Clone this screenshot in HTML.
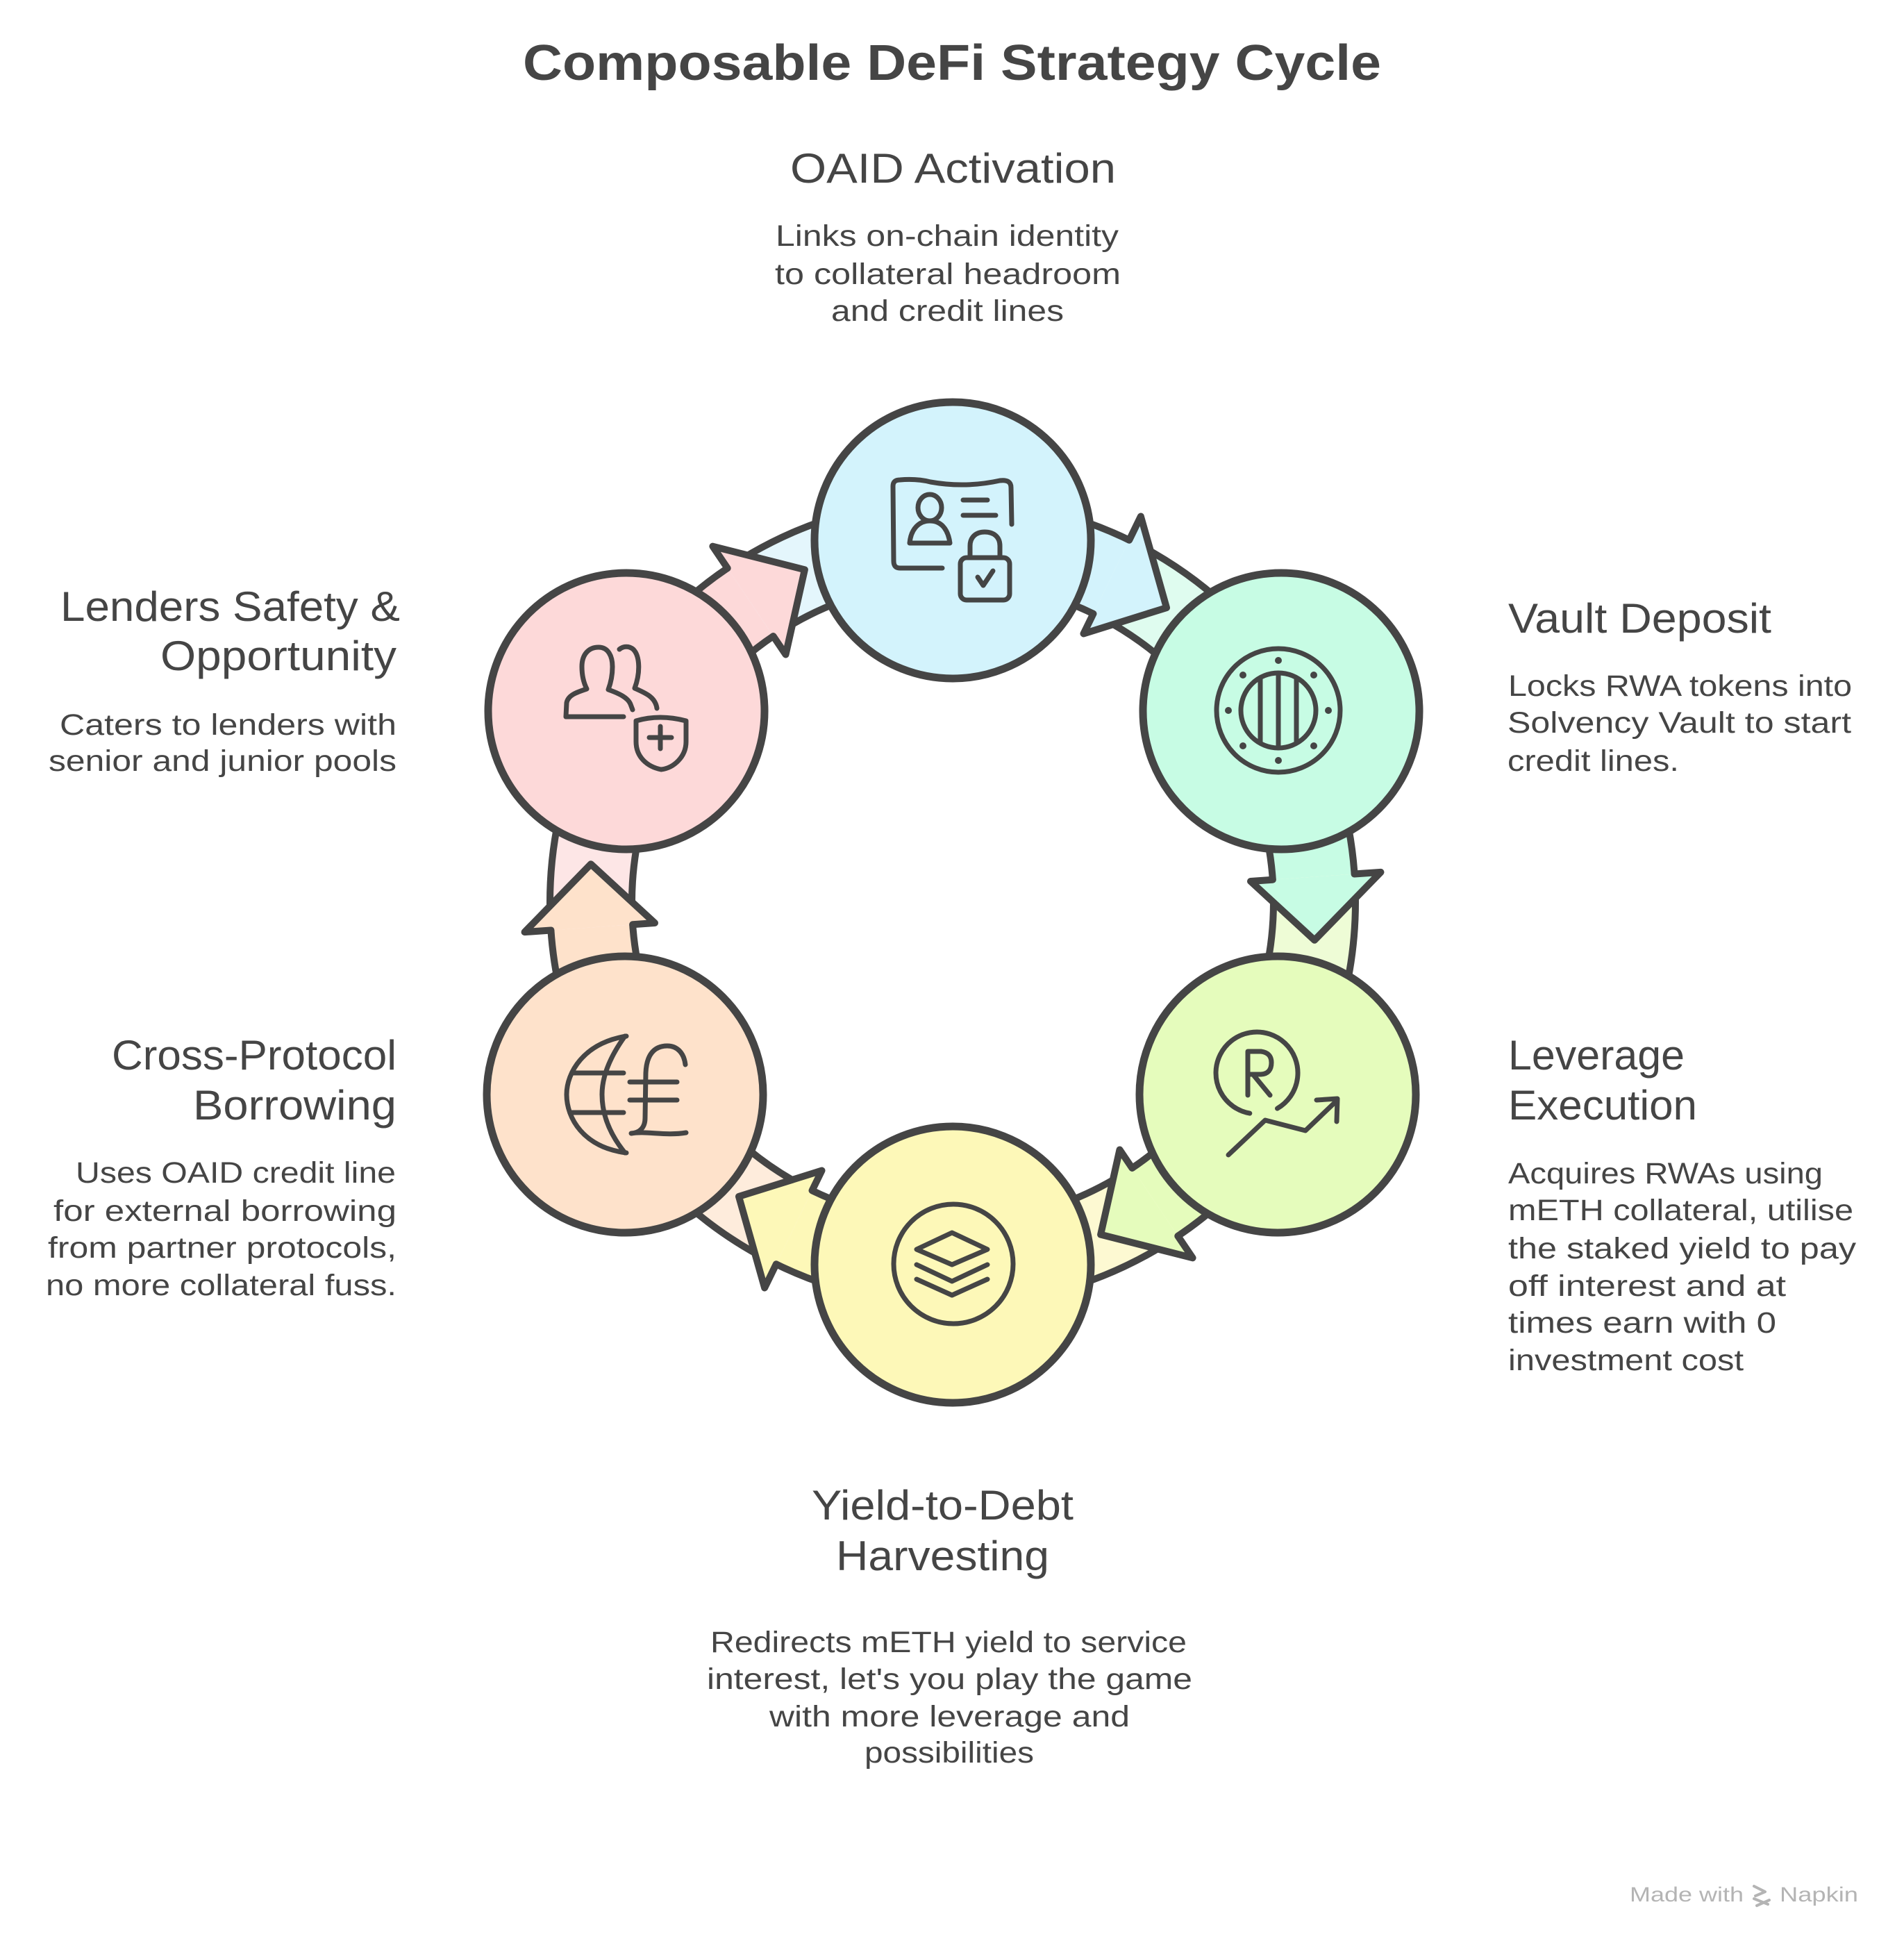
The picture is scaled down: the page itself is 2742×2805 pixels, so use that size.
<!DOCTYPE html>
<html><head><meta charset="utf-8">
<style>
html,body{margin:0;padding:0;background:#fff;}
svg{display:block;}
text{font-family:"Liberation Sans",sans-serif;fill:#454545;}
.h{font-size:60px;}
.d{font-size:43px;}
</style></head><body>
<svg width="2742" height="2805" viewBox="0 0 2742 2805" xmlns="http://www.w3.org/2000/svg">
<rect width="2742" height="2805" fill="#fff"/>

<!-- Title -->
<text x="753" y="115" font-size="72" font-weight="bold" textLength="1236" lengthAdjust="spacingAndGlyphs">Composable DeFi Strategy Cycle</text>

<!-- ARROWS (generic: source at -60deg, target at 0deg, rotated to target angle) -->
<!-- Lenders -> OAID -->
<g transform="translate(1372,1299) rotate(270)">
 <path d="M290,-502.3 A580,580 0 0 1 480.8,-324.3 L383,-258.4 A462,462 0 0 0 231,-400.1 Z" fill="#fdd9d9"/>
 <path d="M480.8,-324.3 A580,580 0 0 1 580,0 L462,0 A462,462 0 0 0 383,-258.4 Z" fill="#e4f6fc"/>
 <path d="M290,-502.3 A580,580 0 0 1 580,0 M231,-400.1 A462,462 0 0 1 462,0" fill="none" stroke="#454545" stroke-width="10"/>
 <path d="M512.3,-345.6 L478.7,-213.1 L356.5,-240.5 Z" fill="#fdd9d9"/>
 <path d="M480.8,-324.3 L512.3,-345.6 L478.7,-213.1 L356.5,-240.5 L383,-258.4" fill="none" stroke="#454545" stroke-width="10" stroke-linejoin="round" stroke-linecap="round"/>
</g>
<!-- OAID -> Vault -->
<g transform="translate(1372,1299) rotate(-30)">
 <path d="M290,-502.3 A580,580 0 0 1 480.8,-324.3 L383,-258.4 A462,462 0 0 0 231,-400.1 Z" fill="#d3f3fc"/>
 <path d="M480.8,-324.3 A580,580 0 0 1 580,0 L462,0 A462,462 0 0 0 383,-258.4 Z" fill="#dffcef"/>
 <path d="M290,-502.3 A580,580 0 0 1 580,0 M231,-400.1 A462,462 0 0 1 462,0" fill="none" stroke="#454545" stroke-width="10"/>
 <path d="M512.3,-345.6 L478.7,-213.1 L356.5,-240.5 Z" fill="#d3f3fc"/>
 <path d="M480.8,-324.3 L512.3,-345.6 L478.7,-213.1 L356.5,-240.5 L383,-258.4" fill="none" stroke="#454545" stroke-width="10" stroke-linejoin="round" stroke-linecap="round"/>
</g>
<!-- Vault -> Leverage -->
<g transform="translate(1372,1299) rotate(30)">
 <path d="M290,-502.3 A580,580 0 0 1 480.8,-324.3 L383,-258.4 A462,462 0 0 0 231,-400.1 Z" fill="#c7fce4"/>
 <path d="M480.8,-324.3 A580,580 0 0 1 580,0 L462,0 A462,462 0 0 0 383,-258.4 Z" fill="#eefcd6"/>
 <path d="M290,-502.3 A580,580 0 0 1 580,0 M231,-400.1 A462,462 0 0 1 462,0" fill="none" stroke="#454545" stroke-width="10"/>
 <path d="M512.3,-345.6 L478.7,-213.1 L356.5,-240.5 Z" fill="#c7fce4"/>
 <path d="M480.8,-324.3 L512.3,-345.6 L478.7,-213.1 L356.5,-240.5 L383,-258.4" fill="none" stroke="#454545" stroke-width="10" stroke-linejoin="round" stroke-linecap="round"/>
</g>
<!-- Leverage -> Yield -->
<g transform="translate(1372,1299) rotate(90)">
 <path d="M290,-502.3 A580,580 0 0 1 480.8,-324.3 L383,-258.4 A462,462 0 0 0 231,-400.1 Z" fill="#e5fcbc"/>
 <path d="M480.8,-324.3 A580,580 0 0 1 580,0 L462,0 A462,462 0 0 0 383,-258.4 Z" fill="#fdf9d2"/>
 <path d="M290,-502.3 A580,580 0 0 1 580,0 M231,-400.1 A462,462 0 0 1 462,0" fill="none" stroke="#454545" stroke-width="10"/>
 <path d="M512.3,-345.6 L478.7,-213.1 L356.5,-240.5 Z" fill="#e5fcbc"/>
 <path d="M480.8,-324.3 L512.3,-345.6 L478.7,-213.1 L356.5,-240.5 L383,-258.4" fill="none" stroke="#454545" stroke-width="10" stroke-linejoin="round" stroke-linecap="round"/>
</g>
<!-- Yield -> Cross -->
<g transform="translate(1372,1299) rotate(150)">
 <path d="M290,-502.3 A580,580 0 0 1 480.8,-324.3 L383,-258.4 A462,462 0 0 0 231,-400.1 Z" fill="#fdf8b8"/>
 <path d="M480.8,-324.3 A580,580 0 0 1 580,0 L462,0 A462,462 0 0 0 383,-258.4 Z" fill="#feecdc"/>
 <path d="M290,-502.3 A580,580 0 0 1 580,0 M231,-400.1 A462,462 0 0 1 462,0" fill="none" stroke="#454545" stroke-width="10"/>
 <path d="M512.3,-345.6 L478.7,-213.1 L356.5,-240.5 Z" fill="#fdf8b8"/>
 <path d="M480.8,-324.3 L512.3,-345.6 L478.7,-213.1 L356.5,-240.5 L383,-258.4" fill="none" stroke="#454545" stroke-width="10" stroke-linejoin="round" stroke-linecap="round"/>
</g>
<!-- Cross -> Lenders -->
<g transform="translate(1372,1299) rotate(210)">
 <path d="M290,-502.3 A580,580 0 0 1 480.8,-324.3 L383,-258.4 A462,462 0 0 0 231,-400.1 Z" fill="#fee2cb"/>
 <path d="M480.8,-324.3 A580,580 0 0 1 580,0 L462,0 A462,462 0 0 0 383,-258.4 Z" fill="#fde6e6"/>
 <path d="M290,-502.3 A580,580 0 0 1 580,0 M231,-400.1 A462,462 0 0 1 462,0" fill="none" stroke="#454545" stroke-width="10"/>
 <path d="M512.3,-345.6 L478.7,-213.1 L356.5,-240.5 Z" fill="#fee2cb"/>
 <path d="M480.8,-324.3 L512.3,-345.6 L478.7,-213.1 L356.5,-240.5 L383,-258.4" fill="none" stroke="#454545" stroke-width="10" stroke-linejoin="round" stroke-linecap="round"/>
</g>

<!-- CIRCLES -->
<g stroke="#454545" stroke-width="11">
 <circle cx="1372" cy="778" r="199" fill="#d3f3fc"/>
 <circle cx="1845" cy="1024" r="199" fill="#c7fce4"/>
 <circle cx="1840" cy="1576" r="199" fill="#e5fcbc"/>
 <circle cx="1372" cy="1821" r="199" fill="#fdf8b8"/>
 <circle cx="900" cy="1576" r="199" fill="#fee2cb"/>
 <circle cx="902" cy="1024" r="199" fill="#fdd9d9"/>
</g>

<!-- ICONS -->
<g fill="none" stroke="#454545" stroke-width="7" stroke-linecap="round" stroke-linejoin="round">
 <!-- OAID: ID card + padlock -->
 <path d="M1357,818 L1296,818 Q1287,818 1287,808 L1286,700 Q1286,691 1296,691 Q1320,689 1340,694 Q1390,703 1440,692 Q1456,690 1456,702 L1457,755"/>
 <ellipse cx="1339" cy="731" rx="17" ry="19"/>
 <path d="M1310,782 C1312,760 1325,750 1339,750 C1354,750 1365,760 1368,782 Z"/>
 <path d="M1387,720 L1422,720 M1387,742 L1434,742"/>
 <path d="M1397,803 L1397,786 C1397,773 1406,766 1418,766 C1431,766 1440,773 1440,786 L1440,803"/>
 <rect x="1383" y="803" width="71" height="61" rx="9"/>
 <path d="M1408,831 L1416,843 L1430,822"/>

 <!-- Vault: porthole -->
 <circle cx="1841" cy="1023" r="89"/>
 <circle cx="1841" cy="1023" r="54"/>
 <path d="M1815,978 L1815,1068 M1841,970 L1841,1077 M1867,978 L1867,1068"/>

 <!-- Leverage: (R) + trend -->
 <path d="M1799.8,1603.1 A59,59 0 1 1 1839.5,1596.1"/>
 <path d="M1797,1577 L1797,1514 L1816,1514 Q1831,1516 1831,1530 Q1831,1546 1816,1547 L1799,1547 M1806,1549 L1829,1577"/>
 <path d="M1769,1663 L1822,1613 L1880,1628 L1926,1584 M1896,1584 L1926,1582 L1925,1615"/>

 <!-- Yield: stacked layers -->
 <circle cx="1373" cy="1820" r="86"/>
 <path d="M1320,1799 L1371,1775 L1422,1799 L1371,1821 Z"/>
 <path d="M1320,1821 L1371,1845 L1422,1821"/>
 <path d="M1320,1842 L1371,1865 L1422,1842"/>

 <!-- Cross: globe + pound -->
 <path d="M902,1492 C840,1502 816,1545 816,1576 C816,1610 840,1652 902,1660"/>
 <path d="M900,1492 C874,1528 867,1556 867,1576 C867,1600 874,1628 900,1660"/>
 <path d="M826,1545 L898,1545 M824,1602 L898,1602"/>
 <path d="M987,1533 C985,1516 975,1506 961,1506 C941,1506 931,1520 930,1545 L929,1610 C929,1624 921,1631 909,1632 C930,1628 958,1636 988,1631"/>
 <path d="M907,1558 L975,1558 M907,1584 L975,1584"/>

 <!-- Lenders: people + shield -->
 <path d="M815,1032 L898,1032"/>
 <path d="M815,1032 L816,1012 C818,1001 830,997 845,992 C841,984 838,974 838,960 C838,942 848,932 862,932 C876,932 882,945 882,960 C882,975 879,985 876,993 C890,998 904,1004 908,1014 L911,1022"/>
 <path d="M892,935 C898,930 906,930 912,935 C922,945 922,970 914,991 C930,998 944,1004 946,1020"/>
 <path d="M916,1038 Q950,1028 988,1038 L988,1068 C988,1090 970,1106 952,1108 C932,1104 916,1090 916,1068 Z"/>
 <path d="M951,1046 L951,1078 M935,1062 L967,1062"/>
</g>
<!-- vault dots -->
<g fill="#454545">
 <circle cx="1913" cy="1023" r="5"/><circle cx="1769" cy="1023" r="5"/>
 <circle cx="1841" cy="951" r="5"/><circle cx="1841" cy="1095" r="5"/>
 <circle cx="1892" cy="972" r="5"/><circle cx="1790" cy="972" r="5"/>
 <circle cx="1892" cy="1074" r="5"/><circle cx="1790" cy="1074" r="5"/>
</g>

<!-- TEXT: OAID -->
<text class="h" x="1138" y="263" textLength="469" lengthAdjust="spacingAndGlyphs">OAID Activation</text>
<text class="d" x="1117" y="354" textLength="494" lengthAdjust="spacingAndGlyphs">Links on-chain identity</text>
<text class="d" x="1116" y="409" textLength="498" lengthAdjust="spacingAndGlyphs">to collateral headroom</text>
<text class="d" x="1197" y="462" textLength="335" lengthAdjust="spacingAndGlyphs">and credit lines</text>

<!-- Lenders -->
<text class="h" x="87" y="894" textLength="489" lengthAdjust="spacingAndGlyphs">Lenders Safety &amp;</text>
<text class="h" x="231" y="965" textLength="340" lengthAdjust="spacingAndGlyphs">Opportunity</text>
<text class="d" x="86" y="1058" textLength="485" lengthAdjust="spacingAndGlyphs">Caters to lenders with</text>
<text class="d" x="70" y="1110" textLength="501" lengthAdjust="spacingAndGlyphs">senior and junior pools</text>

<!-- Cross -->
<text class="h" x="161" y="1540" textLength="410" lengthAdjust="spacingAndGlyphs">Cross-Protocol</text>
<text class="h" x="278" y="1612" textLength="293" lengthAdjust="spacingAndGlyphs">Borrowing</text>
<text class="d" x="109" y="1703" textLength="461" lengthAdjust="spacingAndGlyphs">Uses OAID credit line</text>
<text class="d" x="77" y="1758" textLength="494" lengthAdjust="spacingAndGlyphs">for external borrowing</text>
<text class="d" x="69" y="1811" textLength="502" lengthAdjust="spacingAndGlyphs">from partner protocols,</text>
<text class="d" x="66" y="1865" textLength="505" lengthAdjust="spacingAndGlyphs">no more collateral fuss.</text>

<!-- Vault -->
<text class="h" x="2172" y="911" textLength="379" lengthAdjust="spacingAndGlyphs">Vault Deposit</text>
<text class="d" x="2172" y="1002" textLength="495" lengthAdjust="spacingAndGlyphs">Locks RWA tokens into</text>
<text class="d" x="2171" y="1055" textLength="495" lengthAdjust="spacingAndGlyphs">Solvency Vault to start</text>
<text class="d" x="2171" y="1110" textLength="247" lengthAdjust="spacingAndGlyphs">credit lines.</text>

<!-- Leverage -->
<text class="h" x="2172" y="1540" textLength="254" lengthAdjust="spacingAndGlyphs">Leverage</text>
<text class="h" x="2172" y="1612" textLength="272" lengthAdjust="spacingAndGlyphs">Execution</text>
<text class="d" x="2172" y="1704" textLength="453" lengthAdjust="spacingAndGlyphs">Acquires RWAs using</text>
<text class="d" x="2172" y="1757" textLength="497" lengthAdjust="spacingAndGlyphs">mETH collateral, utilise</text>
<text class="d" x="2172" y="1812" textLength="501" lengthAdjust="spacingAndGlyphs">the staked yield to pay</text>
<text class="d" x="2172" y="1866" textLength="400" lengthAdjust="spacingAndGlyphs">off interest and at</text>
<text class="d" x="2172" y="1919" textLength="386" lengthAdjust="spacingAndGlyphs">times earn with 0</text>
<text class="d" x="2172" y="1973" textLength="339" lengthAdjust="spacingAndGlyphs">investment cost</text>

<!-- Yield -->
<text class="h" x="1169" y="2188" textLength="377" lengthAdjust="spacingAndGlyphs">Yield-to-Debt</text>
<text class="h" x="1204" y="2261" textLength="307" lengthAdjust="spacingAndGlyphs">Harvesting</text>
<text class="d" x="1023" y="2379" textLength="686" lengthAdjust="spacingAndGlyphs">Redirects mETH yield to service</text>
<text class="d" x="1018" y="2432" textLength="699" lengthAdjust="spacingAndGlyphs">interest, let's you play the game</text>
<text class="d" x="1108" y="2486" textLength="519" lengthAdjust="spacingAndGlyphs">with more leverage and</text>
<text class="d" x="1245" y="2538" textLength="244" lengthAdjust="spacingAndGlyphs">possibilities</text>

<!-- Made with Napkin -->
<text x="2347" y="2738" font-size="30" style="fill:#b4b4b4" textLength="164" lengthAdjust="spacingAndGlyphs">Made with</text>
<path d="M2526,2716 L2542,2724 L2528,2730 M2526,2734 L2546,2742 M2530,2744 L2548,2736" fill="none" stroke="#b4b4b4" stroke-width="4" stroke-linecap="round" stroke-linejoin="round"/>
<text x="2563" y="2738" font-size="30" style="fill:#b4b4b4" textLength="113" lengthAdjust="spacingAndGlyphs">Napkin</text>
</svg>
</body></html>
